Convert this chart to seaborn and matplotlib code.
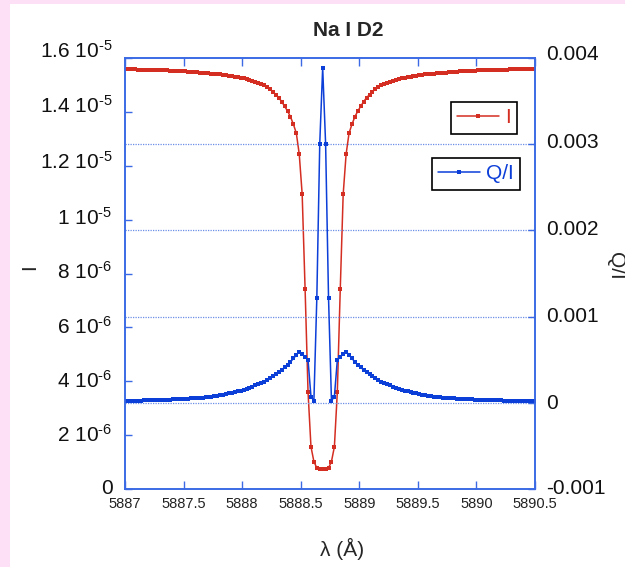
import numpy as np
import pandas as pd
import matplotlib
matplotlib.use("Agg")
import matplotlib.pyplot as plt
from matplotlib.patches import Rectangle
from matplotlib.lines import Line2D
from matplotlib.transforms import ScaledTranslation
import seaborn as sns

# Wavelength grid of the synthetic Na I D2 profile (Angstrom)
wavelength = [
    5887.0125, 5887.0375, 5887.0625, 5887.0875, 5887.1125, 5887.1375, 5887.1625, 5887.1875,
    5887.2125, 5887.2375, 5887.2625, 5887.2875, 5887.3125, 5887.3375, 5887.3625, 5887.3875,
    5887.4125, 5887.4375, 5887.4625, 5887.4875, 5887.5125, 5887.5375, 5887.5625, 5887.5875,
    5887.6125, 5887.6375, 5887.6625, 5887.6875, 5887.7125, 5887.7375, 5887.7625, 5887.7875,
    5887.8125, 5887.8375, 5887.8625, 5887.8875, 5887.9125, 5887.9375, 5887.9625, 5887.9875,
    5888.0125, 5888.0375, 5888.0625, 5888.0875, 5888.1125, 5888.1375, 5888.1625, 5888.1875,
    5888.2125, 5888.2375, 5888.2625, 5888.2875, 5888.3125, 5888.3375, 5888.3625, 5888.3875,
    5888.4125, 5888.4375, 5888.4625, 5888.4875, 5888.5125, 5888.5375, 5888.5625, 5888.5875,
    5888.6125, 5888.6375, 5888.6625, 5888.6875, 5888.7125, 5888.7375, 5888.7625, 5888.7875,
    5888.8125, 5888.8375, 5888.8625, 5888.8875, 5888.9125, 5888.9375, 5888.9625, 5888.9875,
    5889.0125, 5889.0375, 5889.0625, 5889.0875, 5889.1125, 5889.1375, 5889.1625, 5889.1875,
    5889.2125, 5889.2375, 5889.2625, 5889.2875, 5889.3125, 5889.3375, 5889.3625, 5889.3875,
    5889.4125, 5889.4375, 5889.4625, 5889.4875, 5889.5125, 5889.5375, 5889.5625, 5889.5875,
    5889.6125, 5889.6375, 5889.6625, 5889.6875, 5889.7125, 5889.7375, 5889.7625, 5889.7875,
    5889.8125, 5889.8375, 5889.8625, 5889.8875, 5889.9125, 5889.9375, 5889.9625, 5889.9875,
    5890.0125, 5890.0375, 5890.0625, 5890.0875, 5890.1125, 5890.1375, 5890.1625, 5890.1875,
    5890.2125, 5890.2375, 5890.2625, 5890.2875, 5890.3125, 5890.3375, 5890.3625, 5890.3875,
    5890.4125, 5890.4375, 5890.4625, 5890.4875,
]

# Emergent intensity I, in units of 1e-5
intensity_1e5 = [
    1.559, 1.558, 1.558, 1.558, 1.557, 1.557, 1.556, 1.556,
    1.556, 1.555, 1.555, 1.555, 1.554, 1.554, 1.554, 1.553,
    1.553, 1.552, 1.552, 1.551, 1.550, 1.549, 1.549, 1.548,
    1.547, 1.546, 1.545, 1.544, 1.543, 1.542, 1.541, 1.540,
    1.539, 1.538, 1.536, 1.535, 1.533, 1.531, 1.529, 1.527,
    1.524, 1.521, 1.518, 1.515, 1.511, 1.508, 1.503, 1.498,
    1.492, 1.485, 1.475, 1.464, 1.453, 1.438, 1.421, 1.403,
    1.382, 1.354, 1.321, 1.243, 1.094, 0.741, 0.360, 0.157,
    0.102, 0.078, 0.076,
    0.076,
    0.076, 0.078, 0.102, 0.157, 0.360, 0.741, 1.094, 1.243,
    1.321, 1.354, 1.382, 1.403, 1.421, 1.438, 1.453, 1.464,
    1.475, 1.485, 1.492, 1.498, 1.503, 1.508, 1.511, 1.515,
    1.518, 1.521, 1.524, 1.527, 1.529, 1.531, 1.533, 1.535,
    1.536, 1.538, 1.539, 1.540, 1.541, 1.542, 1.543, 1.544,
    1.545, 1.546, 1.547, 1.548, 1.549, 1.549, 1.550, 1.551,
    1.552, 1.552, 1.553, 1.553, 1.554, 1.554, 1.554, 1.555,
    1.555, 1.555, 1.556, 1.556, 1.556, 1.557, 1.557, 1.558,
    1.558, 1.558, 1.559, 1.559, 1.559, 1.560, 1.560, 1.560,
]

# Fractional linear polarization Q/I, in units of 1e-3
q_over_i_1e3 = [
    0.022, 0.023, 0.024, 0.024, 0.025, 0.026, 0.027, 0.028,
    0.029, 0.030, 0.031, 0.032, 0.033, 0.034, 0.036, 0.037,
    0.039, 0.040, 0.042, 0.044, 0.046, 0.048, 0.050, 0.052,
    0.055, 0.058, 0.061, 0.065, 0.068, 0.073, 0.077, 0.082,
    0.088, 0.094, 0.101, 0.108, 0.116, 0.124, 0.133, 0.142,
    0.153, 0.164, 0.176, 0.188, 0.202, 0.216, 0.231, 0.247,
    0.266, 0.286, 0.306, 0.329, 0.355, 0.382, 0.410, 0.439,
    0.474, 0.514, 0.555, 0.593, 0.566, 0.532, 0.497, 0.073,
    0.023, 1.214, 3.006,
    3.888,
    3.006, 1.214, 0.023, 0.073, 0.497, 0.532, 0.566, 0.593,
    0.555, 0.514, 0.474, 0.439, 0.410, 0.382, 0.355, 0.329,
    0.306, 0.286, 0.266, 0.247, 0.231, 0.216, 0.202, 0.188,
    0.176, 0.164, 0.153, 0.142, 0.133, 0.124, 0.116, 0.108,
    0.101, 0.094, 0.088, 0.082, 0.077, 0.073, 0.068, 0.065,
    0.061, 0.058, 0.055, 0.052, 0.050, 0.048, 0.046, 0.044,
    0.042, 0.040, 0.039, 0.037, 0.036, 0.034, 0.033, 0.032,
    0.031, 0.030, 0.029, 0.028, 0.027, 0.026, 0.025, 0.024,
    0.024, 0.023, 0.022, 0.022, 0.021, 0.020, 0.020, 0.019,
]

x_ticks = [5887, 5887.5, 5888, 5888.5, 5889, 5889.5, 5890, 5890.5]
x_tick_labels = ["5887", "5887.5", "5888", "5888.5", "5889", "5889.5", "5890", "5890.5"]
left_ticks = [0, 2e-6, 4e-6, 6e-6, 8e-6, 1e-5, 1.2e-5, 1.4e-5, 1.6e-5]
left_tick_labels = ["0", "2 10$^{\u20106}$", "4 10$^{\u20106}$", "6 10$^{\u20106}$",
                    "8 10$^{\u20106}$", "1 10$^{\u20105}$", "1.2 10$^{\u20105}$",
                    "1.4 10$^{\u20105}$", "1.6 10$^{\u20105}$"]
right_ticks = [-0.001, 0, 0.001, 0.002, 0.003, 0.004]
right_tick_labels = ["-0.001", "0", "0.001", "0.002", "0.003", "0.004"]

sns.set_style("ticks")
plt.rcParams["font.family"] = ["Liberation Sans", "DejaVu Sans"]
plt.rcParams["mathtext.fontset"] = "custom"
plt.rcParams["mathtext.rm"] = "Liberation Sans"
plt.rcParams["mathtext.it"] = "Liberation Sans:italic"
plt.rcParams["mathtext.bf"] = "Liberation Sans:bold"
plt.rcParams["mathtext.default"] = "rm"

RED = "#d42e22"
BLUE = "#0c3ed8"
FRAME = "#3b6ae4"
GRID = "#6b8fe6"
PINK = "#fde0f5"

df = pd.DataFrame({
    "wavelength": wavelength,
    "I": np.array(intensity_1e5) * 1e-5,
    "Q/I": np.array(q_over_i_1e3) * 1e-3,
})

W, H = 625, 567
fig = plt.figure(figsize=(W / 100, H / 100), dpi=100, facecolor="white")
fig.patches.append(Rectangle((0, 0), 10 / W, 1, transform=fig.transFigure,
                             facecolor=PINK, edgecolor="none", zorder=0))
fig.patches.append(Rectangle((0, 1 - 4 / H), 1, 4 / H, transform=fig.transFigure,
                             facecolor=PINK, edgecolor="none", zorder=0))

ax = fig.add_axes([125 / W, 1 - 489 / H, 410 / W, 431 / H])
ax2 = ax.twinx()

sns.lineplot(data=df, x="wavelength", y="I", ax=ax, color=RED, marker="s",
             markersize=3.0, markeredgewidth=0, linewidth=1.1, sort=False,
             estimator=None, legend=False)
sns.lineplot(data=df, x="wavelength", y="Q/I", ax=ax2, color=BLUE, marker="s",
             markersize=3.0, markeredgewidth=0, linewidth=1.1, sort=False,
             estimator=None, legend=False)

ax.set_xlim(5887, 5890.5)
ax.set_ylim(0, 1.6e-5)
ax2.set_ylim(-0.001, 0.004)

ax.set_xticks(x_ticks)
ax.set_xticklabels(x_tick_labels)
ax.set_yticks(left_ticks)
ax.set_yticklabels(left_tick_labels)
ax2.set_yticks(right_ticks)
ax2.set_yticklabels(right_tick_labels)

# dotted guide lines at the Q/I ticks
for v in right_ticks[1:-1]:
    ax2.axhline(v, color=GRID, linestyle=(0, (1, 1)), linewidth=0.9, zorder=0.5)

for a in (ax, ax2):
    for s in a.spines.values():
        s.set_color(FRAME)
        s.set_linewidth(1.2)

ax.tick_params(axis="x", direction="in", top=True, bottom=True, length=6, width=1,
               color=FRAME, labelsize=10.5, pad=6, labelcolor="#222222")
ax.tick_params(axis="y", direction="in", left=True, right=False, length=5, width=1,
               color=FRAME, labelsize=15, pad=9, labelcolor="#111111")
ax2.tick_params(axis="y", direction="in", left=False, right=True, length=5, width=1,
                color=FRAME, labelsize=15, pad=8, labelcolor="#111111")

# the value labels sit slightly above their ticks, more so towards the top
left_shift_px = [2, 2, 2.5, 3, 3.5, 4, 6, 8, 9]
right_shift_px = [3, 1.5, 2, 2.5, 3.5, 6]
for lab, d in zip(ax.get_yticklabels(), left_shift_px):
    lab.set_transform(lab.get_transform() + ScaledTranslation(0, d / 100, fig.dpi_scale_trans))
for lab, d in zip(ax2.get_yticklabels(), right_shift_px):
    lab.set_transform(lab.get_transform() + ScaledTranslation(0, d / 100, fig.dpi_scale_trans))

ax.set_xlabel("λ (Å)", fontsize=15)
ax.xaxis.set_label_coords((342 - 125) / 410, (489 - 549) / 431)
ax.xaxis.label.set_va("center")
ax.set_ylabel("I", fontsize=15)
ax.yaxis.set_label_coords((30 - 125) / 410, (489 - 267) / 431)
ax.yaxis.label.set_va("center")
ax2.set_ylabel("Q/I", fontsize=15, rotation=270)
ax2.yaxis.set_label_coords((615 - 125) / 410, (489 - 266) / 431)
ax2.yaxis.label.set_va("center")

fig.text(348 / W, 1 - 30 / H, "Na I D2", ha="center", va="center",
         fontsize=15, fontweight="bold")

legend_style = dict(loc="upper right", bbox_transform=fig.transFigure, frameon=True,
                    fancybox=False, edgecolor="black", framealpha=1, fontsize=15,
                    handlelength=2.0, handletextpad=0.3, borderpad=0.3,
                    borderaxespad=0)
h_i = Line2D([], [], color=RED, marker="s", markersize=3, markeredgewidth=0, linewidth=1.1)
leg_i = ax2.legend([h_i], ["I"], bbox_to_anchor=(517 / W, 1 - 102 / H),
                   labelcolor=[RED], **legend_style)
leg_i.get_frame().set_linewidth(1.2)
ax2.add_artist(leg_i)
h_q = Line2D([], [], color=BLUE, marker="s", markersize=3, markeredgewidth=0, linewidth=1.1)
leg_q = ax2.legend([h_q], ["Q/I"], bbox_to_anchor=(520 / W, 1 - 158 / H),
                   labelcolor=[BLUE], **legend_style)
leg_q.get_frame().set_linewidth(1.2)

fig.savefig("out.png", dpi=100, facecolor=fig.get_facecolor())
